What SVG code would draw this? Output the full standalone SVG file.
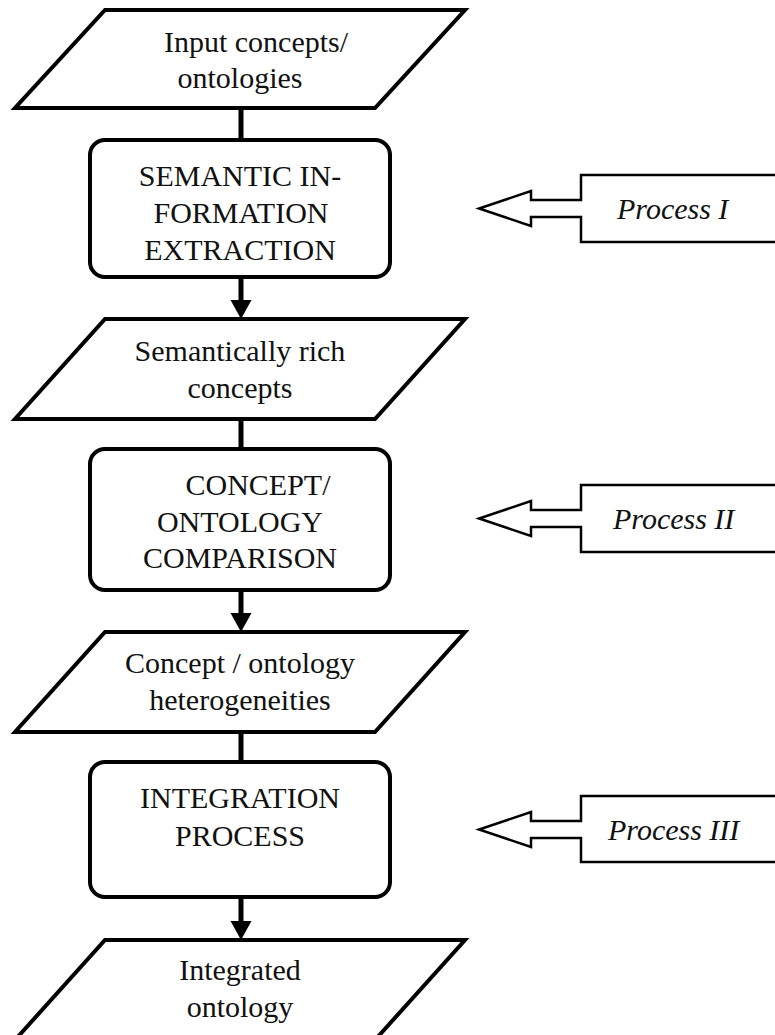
<svg xmlns="http://www.w3.org/2000/svg" width="775" height="1035" viewBox="0 0 775 1035">
  <defs>
    <style>
      .data { fill: #fff; stroke: #000; stroke-width: 4; stroke-linejoin: miter; }
      .proc { fill: #fff; stroke: #000; stroke-width: 4; }
      .callout { fill: #fff; stroke: #000; stroke-width: 2.5; stroke-linejoin: miter; }
      .lbl { font-family: "Liberation Serif", "Times New Roman", serif; font-size: 30px; fill: #111; text-anchor: middle; }
      .plbl { font-family: "Liberation Serif", "Times New Roman", serif; font-size: 30px; font-style: italic; fill: #111; }
      .link { stroke: #000; stroke-width: 5; fill: none; }
    </style>
    <marker id="head" viewBox="0 0 21 18" refX="10.5" refY="18" markerWidth="21" markerHeight="18" markerUnits="userSpaceOnUse" orient="auto-start-reverse">
      <path d="M0,0 L21,0 L10.5,18 Z" fill="#000"/>
    </marker>
  </defs>

  <rect width="775" height="1035" fill="#fff"/>

  <!-- connectors -->
  <g id="connectors">
    <line class="link" x1="241" y1="108" x2="241" y2="140"/>
    <line class="link" x1="241" y1="277" x2="241" y2="300"/>
    <path d="M230.5,300 L251.5,300 L241,319 Z" fill="#000"/>
    <line class="link" x1="241" y1="419" x2="241" y2="449"/>
    <line class="link" x1="241" y1="590" x2="241" y2="613"/>
    <path d="M230.5,613 L251.5,613 L241,632 Z" fill="#000"/>
    <line class="link" x1="241" y1="732" x2="241" y2="762"/>
    <line class="link" x1="241" y1="897" x2="241" y2="921"/>
    <path d="M230.5,921 L251.5,921 L241,940 Z" fill="#000"/>
  </g>

  <!-- data nodes -->
  <g id="input">
    <polygon class="data" points="105,10 465,10 375,108 15,108"/>
    <text class="lbl" x="256" y="52">Input concepts/</text>
    <text class="lbl" x="240" y="88">ontologies</text>
  </g>

  <g id="extraction">
    <rect class="proc" x="90" y="140" width="300" height="137" rx="15"/>
    <text class="lbl" x="240" y="186">SEMANTIC IN-</text>
    <text class="lbl" x="241" y="223">FORMATION</text>
    <text class="lbl" x="240" y="260">EXTRACTION</text>
  </g>

  <g id="rich-concepts">
    <polygon class="data" points="105,319 465,319 375,419 15,419"/>
    <text class="lbl" x="240" y="361">Semantically rich</text>
    <text class="lbl" x="240" y="398">concepts</text>
  </g>

  <g id="comparison">
    <rect class="proc" x="90" y="449" width="300" height="141" rx="15"/>
    <text class="lbl" x="258" y="495">CONCEPT/</text>
    <text class="lbl" x="240" y="532">ONTOLOGY</text>
    <text class="lbl" x="240" y="568">COMPARISON</text>
  </g>

  <g id="heterogeneities">
    <polygon class="data" points="105,632 465,632 375,732 15,732"/>
    <text class="lbl" x="240" y="673">Concept / ontology</text>
    <text class="lbl" x="240" y="710">heterogeneities</text>
  </g>

  <g id="integration">
    <rect class="proc" x="90" y="762" width="300" height="135" rx="15"/>
    <text class="lbl" x="240" y="808">INTEGRATION</text>
    <text class="lbl" x="240" y="846">PROCESS</text>
  </g>

  <g id="integrated">
    <polygon class="data" points="105,940 465,940 375,1040 15,1040"/>
    <text class="lbl" x="240" y="980">Integrated</text>
    <text class="lbl" x="240" y="1017">ontology</text>
  </g>

  <!-- process callouts -->
  <g id="process-1">
    <path class="callout" d="M790,175 H581 V200 H531 V191 L479,208.5 L531,226 V217 H581 V242 H790"/>
    <text class="plbl" x="617" y="219">Process I</text>
  </g>

  <g id="process-2">
    <path class="callout" d="M790,485 H581 V510 H531 V501 L479,518.5 L531,536 V527 H581 V552 H790"/>
    <text class="plbl" x="613" y="529">Process II</text>
  </g>

  <g id="process-3">
    <path class="callout" d="M790,796 H581 V821 H531 V812 L479,829.5 L531,847 V838 H581 V862 H790"/>
    <text class="plbl" x="608" y="840">Process III</text>
  </g>
</svg>
